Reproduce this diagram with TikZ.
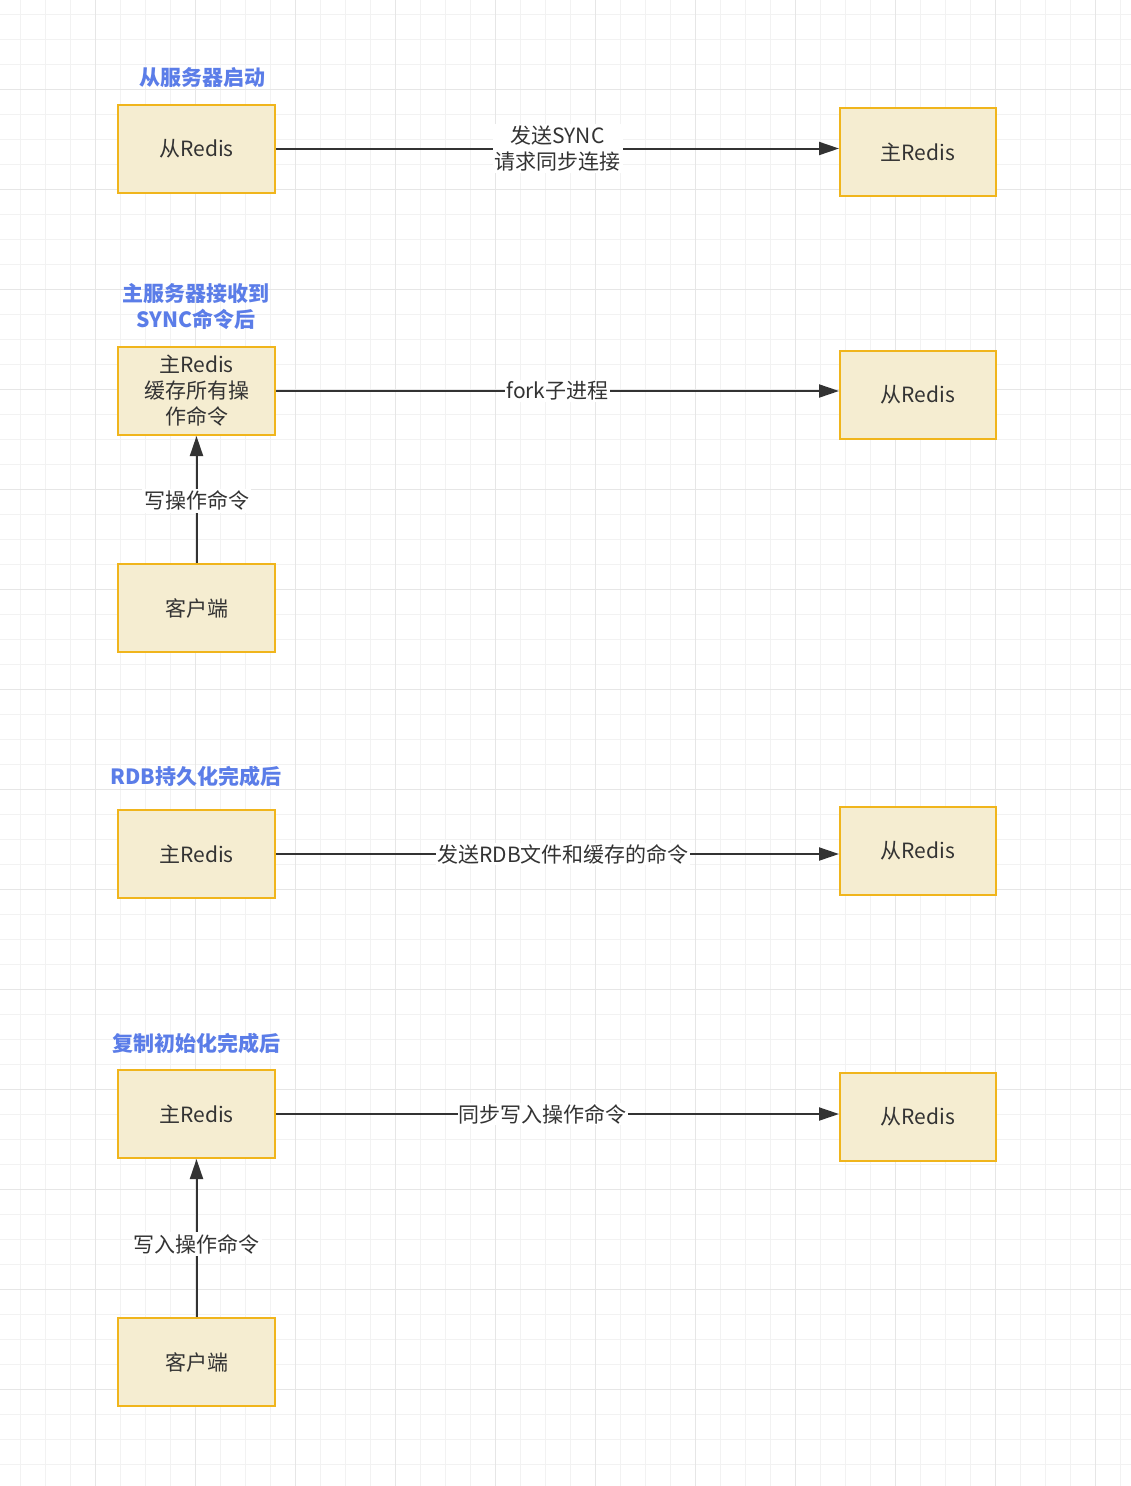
\documentclass[tikz,border=0pt]{standalone}
\usepackage{fontspec}
\setmainfont{Noto Sans CJK SC}
\usetikzlibrary{arrows.meta}
\definecolor{boxfill}{HTML}{F5EDD1}
\definecolor{boxline}{HTML}{F0B51C}
\definecolor{ink}{HTML}{333333}
\definecolor{ttl}{HTML}{5B7DE8}
\definecolor{gridminor}{HTML}{F2F2F2}
\definecolor{gridmajor}{HTML}{E6E6E6}
\tikzset{
  box/.style={draw=boxline, fill=boxfill, line width=2pt, minimum width=157pt, minimum height=88pt,
    inner sep=0pt, align=center, text=ink, font=\fontsize{21}{26}\selectfont},
  title/.style={text=ttl, align=center, font=\fontsize{21}{26}\selectfont\bfseries, inner sep=0pt},
  conn/.style={draw=ink, line width=2pt, -{Triangle[length=20pt,width=13pt]}},
  lbl/.style={fill=white, text=ink, align=center, inner sep=2pt, font=\fontsize{21}{26}\selectfont},
}
\begin{document}
\begin{tikzpicture}[x=1pt,y=-1pt]
\useasboundingbox (0,0) rectangle (1131,1486);
\fill[white] (0,0) rectangle (1131,1486);
% grid
\foreach \i in {0,...,46} \draw[gridminor, line width=1pt] ({-4.3+25*\i},0) -- ({-4.3+25*\i},1486);
\foreach \i in {0,...,60} \draw[gridminor, line width=1pt] (0,{-11+25*\i}) -- (1131,{-11+25*\i});
\foreach \i in {0,...,11} \draw[gridmajor, line width=1pt] ({-4.3+100*\i},0) -- ({-4.3+100*\i},1486);
\foreach \i in {0,...,14} \draw[gridmajor, line width=1pt] (0,{-11+100*\i}) -- (1131,{-11+100*\i});

% titles
\node[title] (t1) at (202,78) {从服务器启动};
\node[title] (t2) at (196,307) {主服务器接收到\\SYNC命令后};
\node[title] (t3) at (196,776) {RDB持久化完成后};
\node[title] (t4) at (196,1043) {复制初始化完成后};

% row 1
\node[box] (s1) at (196.5,148.5) {从Redis};
\node[box, minimum width=156pt] (m1) at (918,152) {主Redis};
\draw[conn] (s1.east) -- node[lbl]{发送SYNC\\请求同步连接} (s1.east -| m1.west);

% row 2
\node[box] (m2) at (196.5,391) {主Redis\\缓存所有操\\作命令};
\node[box, minimum width=156pt] (s2) at (918,395) {从Redis};
\node[box] (c2) at (196.5,608) {客户端};
\draw[conn] (m2.east) -- node[lbl, inner sep=1pt]{fork子进程} (m2.east -| s2.west);
\draw[conn] (c2.north) -- node[lbl, pos=0.49]{写操作命令} (m2.south);

% row 3
\node[box] (m3) at (196.5,854) {主Redis};
\node[box, minimum width=156pt] (s3) at (918,851) {从Redis};
\draw[conn] (m3.east) -- node[lbl, pos=0.51, inner sep=1pt]{发送RDB文件和缓存的命令} (m3.east -| s3.west);

% row 4
\node[box] (m4) at (196.5,1114) {主Redis};
\node[box, minimum width=156pt] (s4) at (918,1117) {从Redis};
\node[box] (c4) at (196.5,1362) {客户端};
\draw[conn] (m4.east) -- node[lbl, pos=0.474, inner sep=1pt]{同步写入操作命令} (m4.east -| s4.west);
\draw[conn] (c4.north) -- node[lbl, pos=0.46]{写入操作命令} (m4.south);
\end{tikzpicture}
\end{document}
